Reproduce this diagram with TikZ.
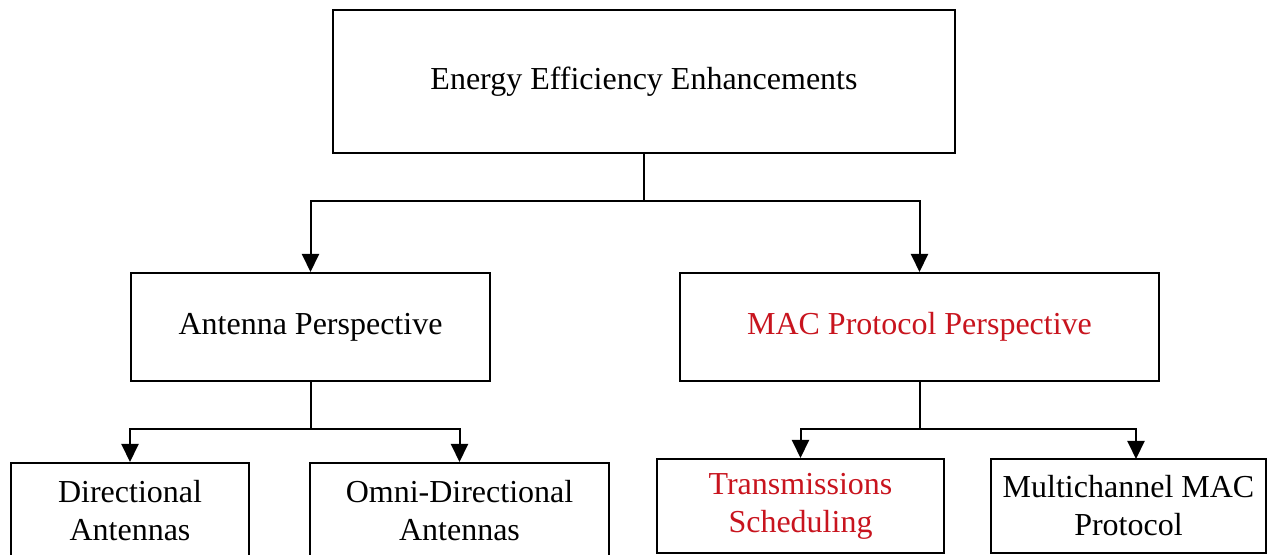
\documentclass[tikz,border=0pt]{standalone}
\usepackage{fontspec}
\setmainfont{Liberation Serif}
\usetikzlibrary{arrows.meta}

\definecolor{macred}{RGB}{200,20,30}

\begin{document}
\begin{tikzpicture}[x=0.5pt,y=-0.5pt,
	box/.style={draw, line width=1pt, align=center, inner sep=0pt, font=\fontsize{16}{19}\selectfont},
	link/.style={line width=1pt},
	arrow/.style={link, -{Triangle[length=9pt,width=8.5pt]}}]
	\clip (0,0) rectangle (1270,555);

	% top level
	\node[box, minimum width=311pt, minimum height=71.5pt] (eee) at (644,81.5) {Energy Efficiency Enhancements};

	% second level
	\node[box, minimum width=179.5pt, minimum height=54pt] (ant) at (310.5,327) {Antenna Perspective};
	\node[box, minimum width=239.5pt, minimum height=54pt, text=macred] (mac) at (919.5,327) {MAC Protocol Perspective};

	% third level
	\node[box, minimum width=119pt, minimum height=47.5pt] (dir) at (130,510.5) {Directional\\Antennas};
	\node[box, minimum width=149.5pt, minimum height=47.5pt] (omni) at (459.5,510.5) {Omni-Directional\\Antennas};
	\node[box, minimum width=143.5pt, minimum height=47pt, text=macred] (trans) at (800.5,506) {Transmissions\\Scheduling};
	\node[box, minimum width=137.5pt, minimum height=47pt] (multi) at (1128.5,506) {Multichannel MAC\\Protocol};

	% connectors
	\coordinate (eeesplit) at (644,201);
	\coordinate (antsplit) at (310.5,429);
	\coordinate (macsplit) at (919.5,429);
	\coordinate (multiin) at (1136,459);

	\draw[link] (eee.south) -- (eeesplit);
	\draw[arrow] (eeesplit) -| (ant.north);
	\draw[arrow] (eeesplit) -| (mac.north);

	\draw[link] (ant.south) -- (antsplit);
	\draw[arrow] (antsplit) -| (dir.north);
	\draw[arrow] (antsplit) -| (omni.north);

	\draw[link] (mac.south) -- (macsplit);
	\draw[arrow] (macsplit) -| (trans.north);
	\draw[arrow] (macsplit) -| (multiin);

\end{tikzpicture}
\end{document}
